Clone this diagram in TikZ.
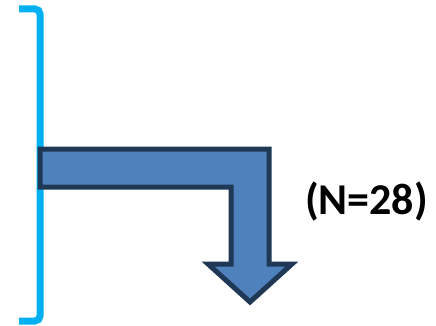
\documentclass[tikz,border=0pt]{standalone}
\usepackage{fontspec}
\newfontfamily\carlitob{Carlito}[UprightFont={* Bold}]
\definecolor{brk}{HTML}{00B0F0}
\definecolor{afill}{HTML}{4F81BD}
\definecolor{aline}{HTML}{1F3855}
\tikzset{
  bracketline/.style={draw=brk, line width=7pt, rounded corners=5pt},
  bentarrow/.style={fill=afill, draw=aline, line width=5pt, line join=miter, miter limit=10},
  labeltext/.style={font=\carlitob\fontsize{44}{48}\selectfont, inner sep=0pt, anchor=base}
}
\begin{document}
\begin{tikzpicture}[x=1pt,y=-1pt]
\useasboundingbox (0,0) rectangle (436,326);
\coordinate (bt) at (19,9);
\coordinate (bb) at (19,321);
\draw[bracketline] (bt) -- (40,9) -- (40,321) -- (bb);
\draw[bentarrow] (40,149) -- (269,149) -- (269,264) -- (292,264) -- (250,302)
  -- (208,264) -- (231,264) -- (231,187) -- (40,187) -- cycle;
\node[labeltext] (lab) at (366.5,214) {(N=28)};
\end{tikzpicture}
\end{document}
